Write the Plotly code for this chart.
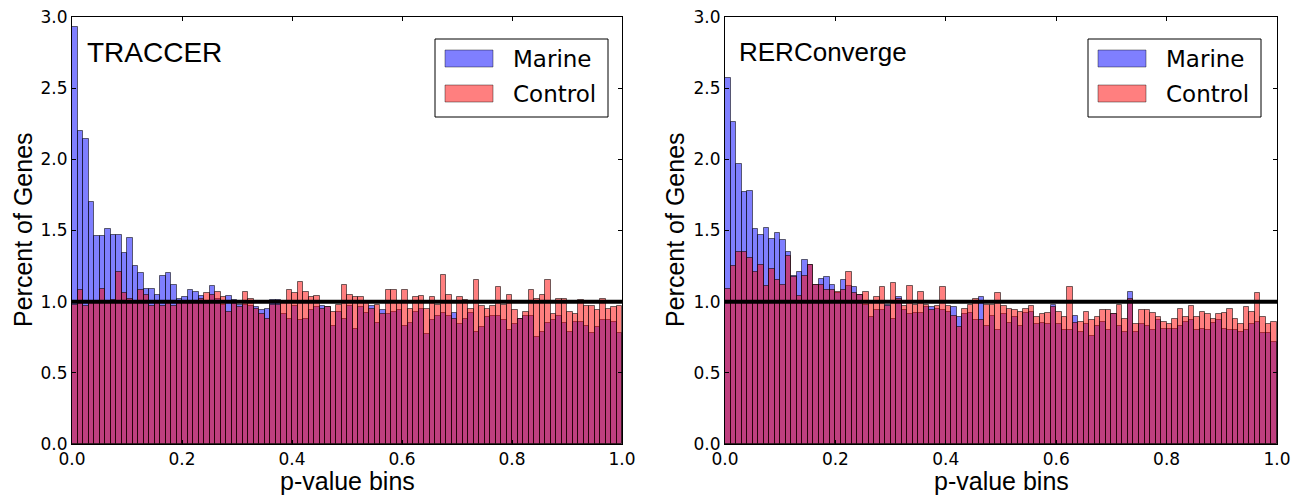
import numpy as np
import plotly.graph_objects as go

# ---- data ----
bin_edges = np.linspace(0.0, 1.0, 101)
x_ticks = [0.0, 0.2, 0.4, 0.6, 0.8, 1.0]
y_ticks = [0.0, 0.5, 1.0, 1.5, 2.0, 2.5, 3.0]
series_names = ["Marine", "Control"]
panel_titles = ["TRACCER", "RERConverge"]
expected_level = 1.0

traccer_marine = [
    2.93, 2.20, 2.14, 1.70, 1.46, 1.46, 1.51, 1.47, 1.47, 1.34,
    1.45, 1.25, 1.20, 1.09, 1.09, 1.05, 1.18, 1.20, 1.12, 1.02,
    1.03, 1.08, 1.07, 1.04, 1.00, 1.11, 1.02, 0.98, 1.04, 1.01,
    0.98, 0.98, 0.97, 0.96, 0.94, 0.95, 1.01, 1.01, 0.91, 0.88,
    0.97, 0.87, 0.88, 0.94, 0.96, 0.97, 0.96, 0.83, 0.93, 0.88,
    0.97, 0.81, 0.96, 0.92, 0.97, 0.85, 0.94, 0.91, 0.93, 0.94,
    0.83, 0.85, 0.93, 0.95, 0.77, 0.87, 0.90, 0.92, 0.90, 0.92,
    0.84, 0.88, 0.92, 0.79, 0.82, 0.89, 0.90, 0.90, 0.87, 0.80,
    0.84, 0.88, 0.90, 0.90, 0.75, 0.79, 0.85, 0.87, 0.90, 0.85,
    0.79, 0.86, 0.86, 0.83, 0.78, 0.82, 0.87, 0.87, 0.86, 0.78,
]
traccer_control = [
    0.98, 1.08, 0.97, 1.00, 1.00, 1.09, 1.00, 1.01, 1.21, 1.06,
    1.02, 1.00, 1.08, 1.05, 0.97, 1.00, 0.97, 1.00, 0.97, 1.00,
    0.99, 1.00, 1.00, 1.02, 1.06, 1.05, 1.07, 1.03, 0.93, 1.00,
    0.96, 1.07, 1.02, 0.95, 0.91, 0.88, 0.98, 0.98, 0.99, 1.08,
    1.06, 1.14, 1.07, 1.03, 1.04, 0.95, 0.96, 0.93, 0.98, 1.12,
    1.05, 1.03, 1.03, 1.00, 0.95, 0.98, 0.91, 1.08, 1.08, 0.99,
    1.08, 0.95, 1.03, 1.04, 0.95, 1.03, 0.98, 1.19, 1.05, 0.88,
    1.03, 1.01, 0.95, 1.15, 0.97, 0.95, 0.97, 1.10, 0.98, 1.05,
    0.94, 0.88, 0.93, 1.08, 1.02, 1.05, 1.15, 0.91, 1.02, 1.02,
    0.93, 0.91, 1.01, 0.97, 0.97, 0.94, 1.02, 0.95, 0.96, 0.97,
]
rer_marine = [
    2.57, 2.26, 1.97, 1.77, 1.78, 1.51, 1.47, 1.52, 1.44, 1.48,
    1.43, 1.35, 1.18, 1.21, 1.29, 1.26, 1.12, 1.16, 1.17, 1.12,
    1.06, 1.15, 1.11, 1.10, 1.05, 0.98, 0.89, 0.94, 0.94, 0.98,
    0.88, 1.03, 0.94, 0.91, 0.92, 0.92, 0.96, 0.96, 0.95, 0.94,
    0.93, 0.96, 0.89, 0.91, 0.92, 0.87, 1.03, 0.83, 0.90, 0.80,
    0.91, 0.85, 0.89, 0.83, 0.92, 0.93, 0.84, 0.85, 0.84, 0.98,
    0.84, 0.80, 0.80, 0.90, 0.79, 0.84, 0.76, 0.83, 0.86, 0.80,
    0.91, 0.83, 0.79, 1.07, 0.79, 0.84, 0.83, 0.80, 0.87, 0.81,
    0.81, 0.81, 0.83, 0.86, 0.87, 0.80, 0.81, 0.80, 0.85, 0.87,
    0.81, 0.80, 0.80, 0.79, 0.80, 0.84, 0.86, 0.78, 0.78, 0.72,
]
rer_control = [
    1.09, 1.25, 1.35, 1.35, 1.31, 1.21, 1.26, 1.11, 1.23, 1.15,
    1.12, 1.32, 1.17, 1.04, 1.18, 1.26, 1.12, 1.12, 1.08, 1.08,
    1.07, 1.08, 1.21, 1.06, 1.05, 1.07, 0.99, 1.03, 1.10, 0.97,
    1.13, 1.02, 0.97, 1.11, 0.98, 1.07, 0.98, 0.94, 0.97, 1.10,
    0.97, 0.90, 0.82, 0.95, 0.98, 1.02, 0.87, 0.98, 0.98, 1.06,
    0.97, 0.95, 0.94, 0.93, 0.95, 0.97, 0.89, 0.91, 0.92, 0.96,
    0.93, 0.89, 1.10, 0.85, 0.86, 0.93, 0.87, 0.89, 0.94, 0.94,
    0.91, 0.98, 0.88, 1.02, 0.84, 0.94, 0.94, 0.92, 0.89, 0.86,
    0.84, 0.88, 0.95, 0.89, 0.97, 0.89, 0.93, 0.91, 0.88, 0.91,
    0.92, 0.95, 0.88, 0.84, 0.96, 0.93, 1.06, 0.89, 0.84, 0.86,
]

# ---- layout helpers (page body has an 8px margin) ----
PAGE_W, PAGE_H = 1304, 500
OFF = 8
W, H = PAGE_W - 2 * OFF, PAGE_H - OFF


def px(x):
    return (x - OFF) / W


def py(y):
    return 1 - (y - OFF) / H


centers = (bin_edges[:-1] + bin_edges[1:]) / 2
widths = np.diff(bin_edges)

fill_colors = ["rgba(0,0,255,0.5)", "rgba(255,0,0,0.5)"]
edge_color = "rgba(0,0,0,0.55)"

fig = go.Figure()
panels = [(traccer_marine, traccer_control), (rer_marine, rer_control)]
for i, (m, c) in enumerate(panels):
    xa = "x" if i == 0 else "x2"
    ya = "y" if i == 0 else "y2"
    for vals, name, col in zip((m, c), series_names, fill_colors):
        fig.add_trace(go.Bar(
            x=centers, y=vals, width=widths, name=name,
            marker=dict(color=col, line=dict(color=edge_color, width=1)),
            xaxis=xa, yaxis=ya, showlegend=False,
        ))

tick_font = dict(family="DejaVu Sans", size=17, color="black")
axis_common = dict(
    showline=True, linecolor="black", linewidth=1, mirror="allticks",
    ticks="inside", ticklen=4, tickcolor="black", showgrid=False,
    zeroline=False, tickfont=tick_font, automargin=False,
    ticklabeloverflow="allow",
)

plot_left = [72, 725]
plot_right = [622, 1277]
plot_top, plot_bottom = 17, 444

fig.update_layout(
    width=W, height=H,
    margin=dict(l=0, r=0, t=0, b=0),
    paper_bgcolor="white", plot_bgcolor="white",
    barmode="overlay", bargap=0,
    xaxis=dict(domain=[px(plot_left[0]), px(plot_right[0])], range=[0, 1],
               tickvals=x_ticks, tickformat=".1f", anchor="y", **axis_common),
    yaxis=dict(domain=[py(plot_bottom), py(plot_top)], range=[0, 3],
               tickvals=y_ticks, tickformat=".1f", anchor="x", **axis_common),
    xaxis2=dict(domain=[px(plot_left[1]), px(plot_right[1])], range=[0, 1],
                tickvals=x_ticks, tickformat=".1f", anchor="y2", **axis_common),
    yaxis2=dict(domain=[py(plot_bottom), py(plot_top)], range=[0, 3],
                tickvals=y_ticks, tickformat=".1f", anchor="x2", **axis_common),
)

shapes = []
annotations = []
title_font = dict(family="Liberation Sans", size=25, color="black")
for i in range(2):
    xref = "x" if i == 0 else "x2"
    yref = "y" if i == 0 else "y2"
    # reference line at 1.0
    shapes.append(dict(type="line", xref=xref, yref=yref, x0=0, x1=1,
                       y0=expected_level, y1=expected_level,
                       line=dict(color="black", width=4), layer="above"))
    off = plot_left[i] - plot_left[0]
    # legend box
    shapes.append(dict(type="rect", xref="paper", yref="paper",
                       x0=px(435 + off), x1=px(608 + off), y0=py(117), y1=py(39),
                       line=dict(color="black", width=1), fillcolor="white",
                       layer="above"))
    for j, (name, col) in enumerate(zip(series_names, fill_colors)):
        ytop = 50 + 35 * j
        shapes.append(dict(type="rect", xref="paper", yref="paper",
                           x0=px(445 + off), x1=px(493 + off),
                           y0=py(ytop + 17), y1=py(ytop),
                           line=dict(color="rgba(0,0,0,0.4)", width=1),
                           fillcolor=col, layer="above"))
        annotations.append(dict(xref="paper", yref="paper",
                                x=px(511 + off), y=py(ytop + 9), text=name,
                                showarrow=False, xanchor="left", yanchor="middle",
                                font=dict(family="DejaVu Sans", size=23, color="black")))
    # panel label
    annotations.append(dict(xref="paper", yref="paper", x=px(85 if i == 0 else 737),
                            y=py(52), text=panel_titles[i], showarrow=False,
                            xanchor="left", yanchor="middle",
                            font=dict(family="Liberation Sans", size=28 if i == 0 else 26,
                                      color="black")))
    # axis titles
    annotations.append(dict(xref="paper", yref="paper",
                            x=px((plot_left[i] + plot_right[i]) / 2), y=py(481),
                            text="p-value bins", showarrow=False,
                            xanchor="center", yanchor="middle", font=title_font))
    annotations.append(dict(xref="paper", yref="paper",
                            x=px(23 if i == 0 else 675), y=py(230),
                            text="Percent of Genes", showarrow=False, textangle=-90,
                            xanchor="center", yanchor="middle", font=title_font))

fig.update_layout(shapes=shapes, annotations=annotations)
fig.write_html("out.html")
